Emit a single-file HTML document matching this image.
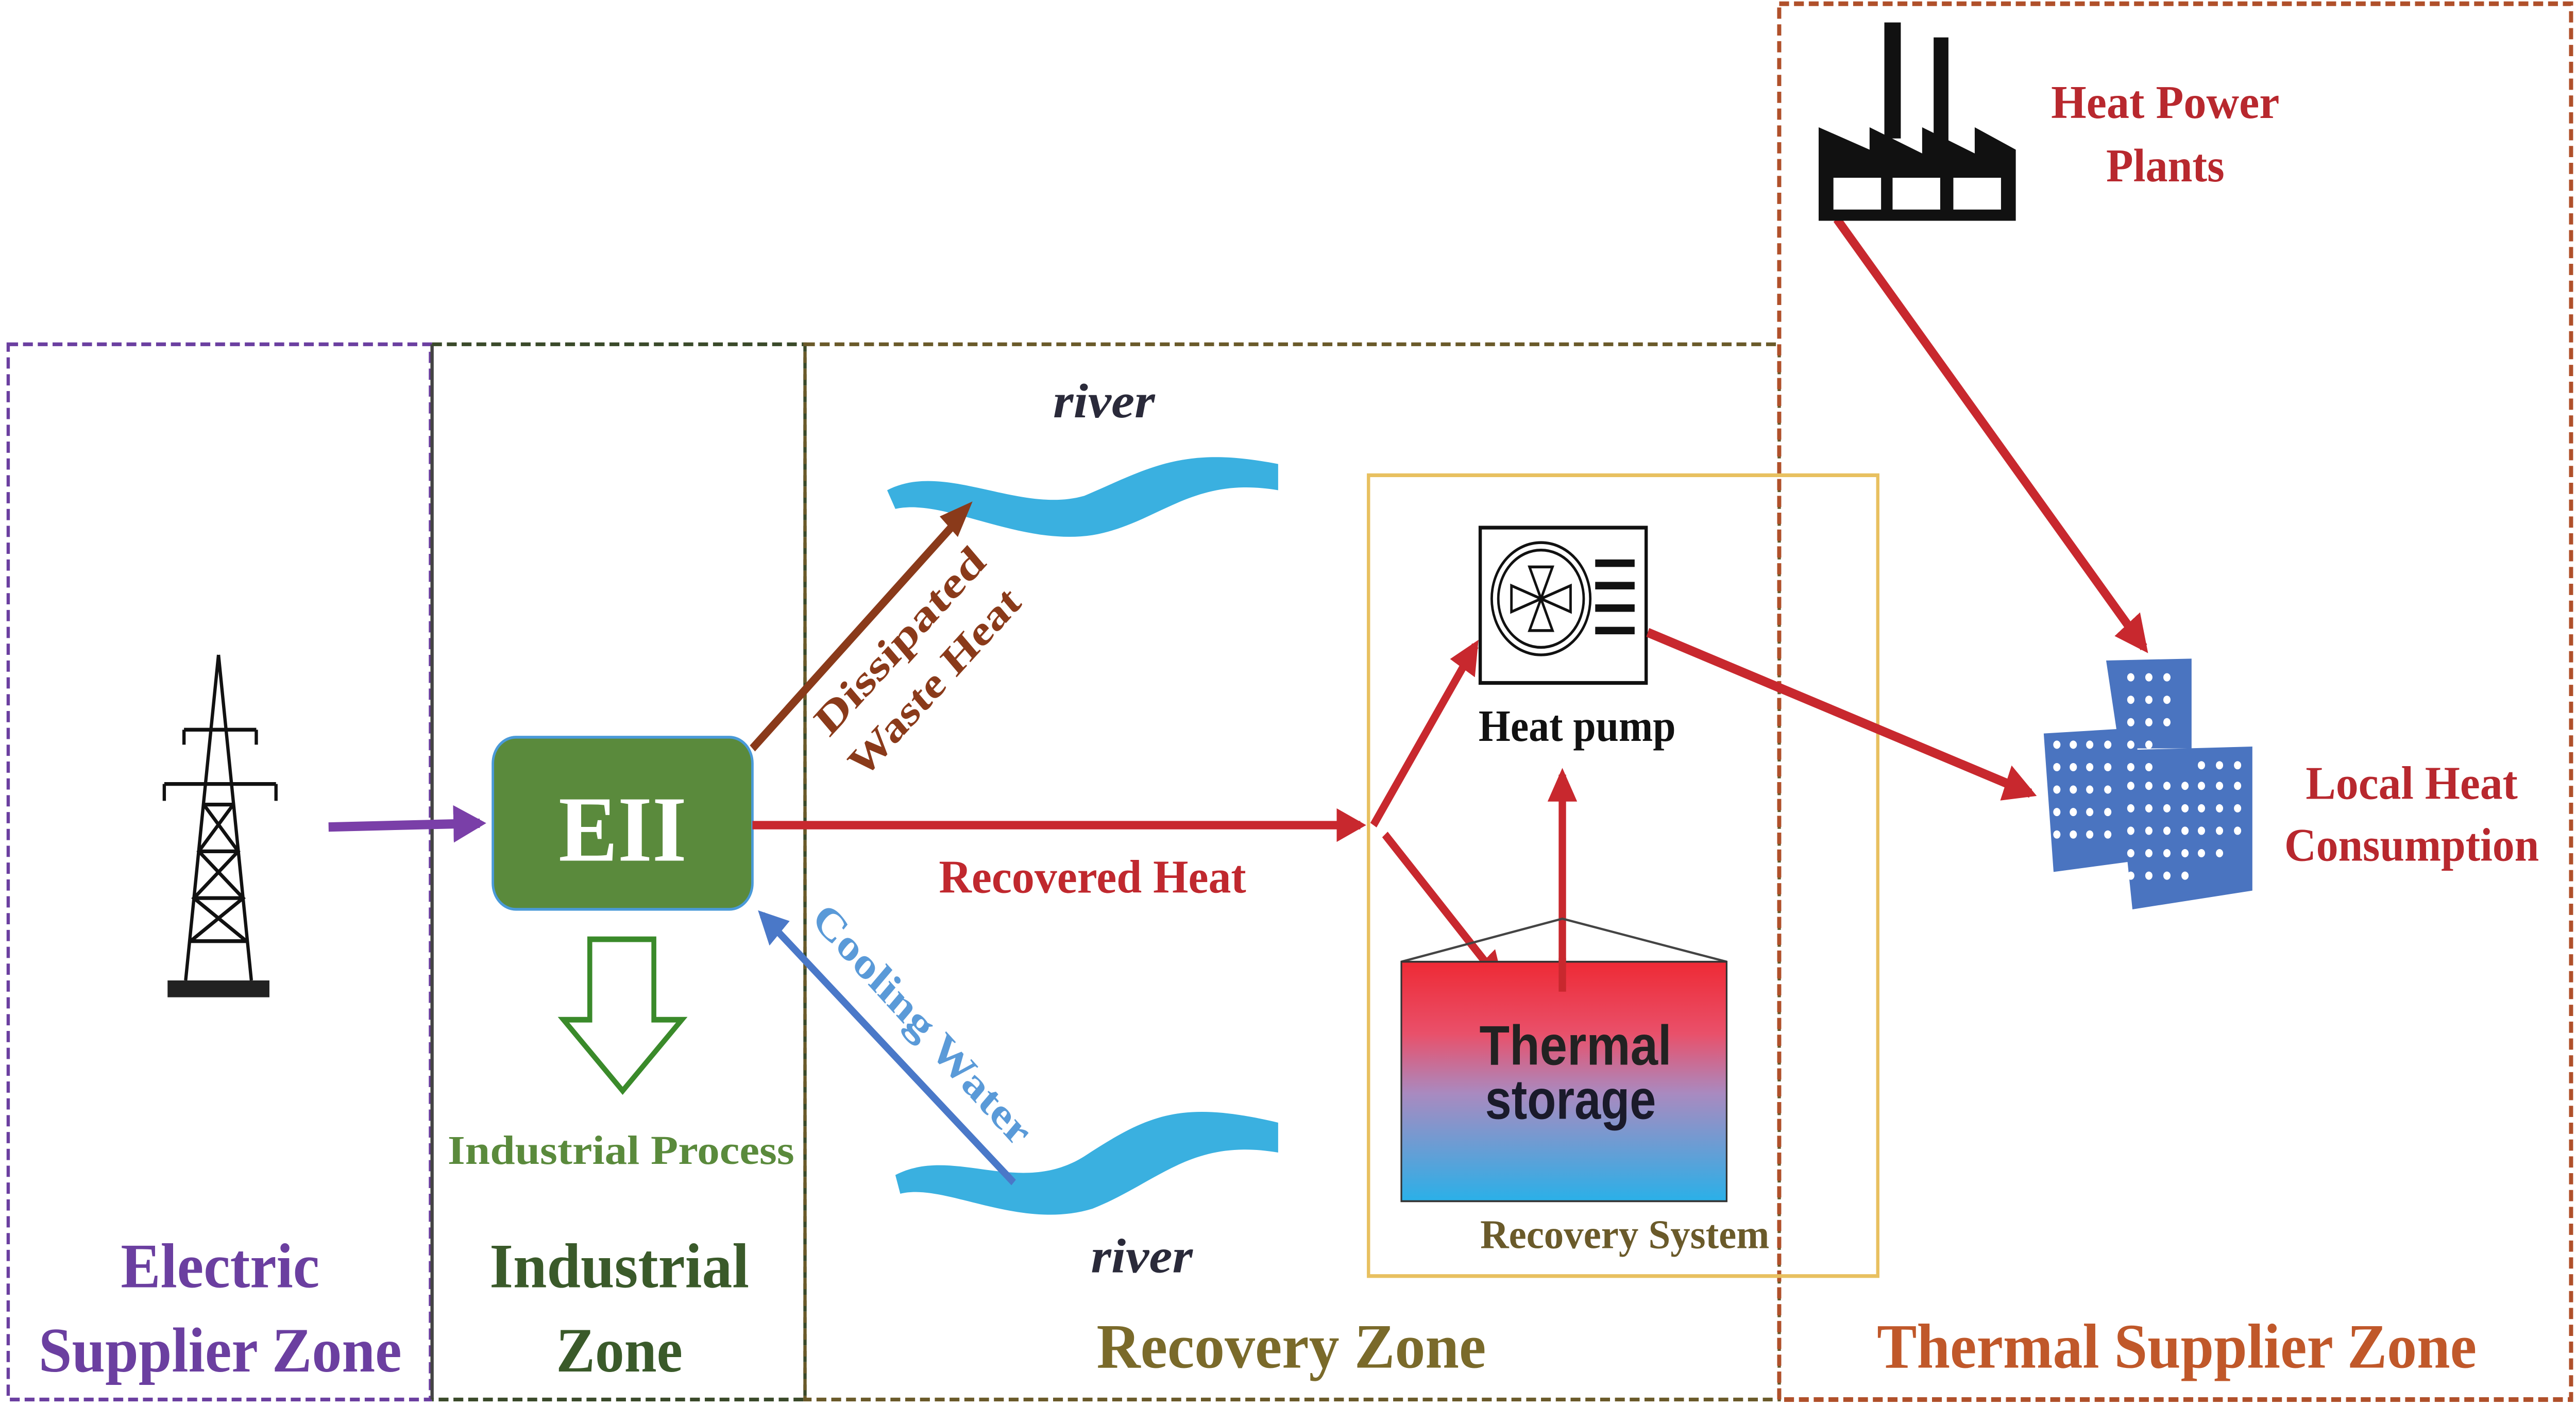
<!DOCTYPE html>
<html><head><meta charset="utf-8"><style>
html,body{margin:0;padding:0;background:#fff;width:100%;height:100%;overflow:hidden}
svg{display:block;position:absolute;left:0;top:0;width:100vw;height:100vh}
text{font-family:"Liberation Serif",serif;font-weight:bold}
</style></head><body>
<svg viewBox="0 0 1568 760" preserveAspectRatio="none" xmlns="http://www.w3.org/2000/svg">
<defs>
<linearGradient id="tg" x1="0" y1="0" x2="0" y2="1">
<stop offset="0" stop-color="#ee2a35"/><stop offset="0.3" stop-color="#e9506a"/><stop offset="0.55" stop-color="#a98ac0"/><stop offset="1" stop-color="#2ab0e8"/></linearGradient>
<marker id="ar" viewBox="0 0 10 10" refX="8" refY="5" markerWidth="4" markerHeight="4" orient="auto"><path d="M0,0L10,5L0,10z" fill="#c8282e"/></marker>
<marker id="ap" viewBox="0 0 10 10" refX="8" refY="5" markerWidth="4" markerHeight="4" orient="auto"><path d="M0,0L10,5L0,10z" fill="#7a3fa8"/></marker>
<marker id="ab" viewBox="0 0 10 10" refX="8" refY="5" markerWidth="4.5" markerHeight="4.5" orient="auto"><path d="M0,0L10,5L0,10z" fill="#4a78c8"/></marker>
</defs>
<rect width="1568" height="760" fill="#fff"/>
<rect x="5" y="184" width="257" height="564" fill="none" stroke="#6b3fa0" stroke-width="2" stroke-dasharray="6,3"/>
<line x1="263" y1="184" x2="263" y2="748" stroke="#444" stroke-width="2"/>
<path d="M263,184H490V748H263" fill="none" stroke="#3a4a2a" stroke-width="2" stroke-dasharray="6,3"/>
<rect x="490" y="184" width="593" height="564" fill="none" stroke="#6a5a2a" stroke-width="2" stroke-dasharray="6,3"/>
<rect x="1083" y="2" width="482" height="746" fill="none" stroke="#b0502a" stroke-width="2.5" stroke-dasharray="6,3"/>
<g stroke="#111" stroke-width="2" fill="none">
<path d="M133,350L113,524M133,350L153,524"/>
<path d="M124,430L142,430M121,455L145,455M118,480L148,480M116,503L150,503"/>
<path d="M124,430L145,455L118,480L150,503M142,430L121,455L148,480L116,503"/>
<path d="M112,390L156,390M100,419L168,419"/>
<path d="M112,390V398M156,390V398M100,419V428M168,419V428"/>
</g>
<rect x="102" y="524" width="62" height="9" fill="#222"/>
<line x1="200" y1="442" x2="292" y2="440" stroke="#7a3fa8" stroke-width="5" marker-end="url(#ap)"/>
<rect x="300" y="394" width="158" height="92" rx="14" fill="#5a8a3c" stroke="#4a9ad8" stroke-width="1.5"/>
<text x="379" y="460" font-size="50" fill="#fff" text-anchor="middle" textLength="78" lengthAdjust="spacingAndGlyphs">EII</text>
<path d="M359,502H398V545H415L379,583L343,545H359Z" fill="#fff" stroke="#3a8a2a" stroke-width="3"/>
<text x="378" y="622" font-size="22" fill="#5a8a3c" text-anchor="middle" textLength="211" lengthAdjust="spacingAndGlyphs">Industrial Process</text>
<path d="M540,262C575,246 620,275 660,265C700,250 720,238 778,248L778,262C725,254 705,280 665,286C620,292 575,266 545,272Z" fill="#3ab0e0"/>
<path d="M545,628C580,612 620,640 660,618C700,595 720,588 778,600L778,616C725,608 705,632 665,646C620,658 575,632 548,638Z" fill="#3ab0e0"/>
<text x="672" y="223" font-size="26" fill="#2a2a3a" font-weight="normal" font-style="italic" text-anchor="middle" textLength="62" lengthAdjust="spacingAndGlyphs">river</text>
<text x="695" y="680" font-size="26" fill="#2a2a3a" font-weight="normal" font-style="italic" text-anchor="middle" textLength="62" lengthAdjust="spacingAndGlyphs">river</text>
<line x1="458" y1="400" x2="585" y2="276" stroke="#8a3a1a" stroke-width="4.5"/>
<path d="M592,268L572,276L583,287Z" fill="#8a3a1a"/>
<text transform="translate(553,348) rotate(-44)" font-size="23" fill="#8a3a1a" text-anchor="middle" textLength="134" lengthAdjust="spacingAndGlyphs">Dissipated</text>
<text transform="translate(574,370) rotate(-44)" font-size="23" fill="#8a3a1a" text-anchor="middle" textLength="135" lengthAdjust="spacingAndGlyphs">Waste Heat</text>
<line x1="458" y1="441" x2="828" y2="441" stroke="#c8282e" stroke-width="4.5" marker-end="url(#ar)"/>
<text x="665" y="477" font-size="25" fill="#c0282e" text-anchor="middle" textLength="187" lengthAdjust="spacingAndGlyphs">Recovered Heat</text>
<line x1="617" y1="632" x2="464" y2="489" stroke="#4a78c8" stroke-width="4" marker-end="url(#ab)"/>
<text transform="translate(556,553) rotate(44)" font-size="23" fill="#5a9ad8" text-anchor="middle" textLength="175" lengthAdjust="spacingAndGlyphs">Cooling Water</text>
<rect x="833" y="254" width="310" height="428" fill="none" stroke="#e8c060" stroke-width="2"/>
<rect x="901" y="282" width="101" height="83" fill="#fff" stroke="#111" stroke-width="2"/>
<ellipse cx="938" cy="320" rx="30" ry="30" fill="none" stroke="#111" stroke-width="1.5"/>
<ellipse cx="938" cy="320" rx="26" ry="26" fill="none" stroke="#111" stroke-width="1.5"/>
<path d="M931,303L945,303L938,320ZM931,337L945,337L938,320ZM920,313L920,327L938,320ZM956,313L956,327L938,320Z" fill="none" stroke="#111" stroke-width="1.5"/>
<path d="M971,301H995M971,313H995M971,325H995M971,337H995" stroke="#111" stroke-width="4"/>
<text x="960" y="396" font-size="24" fill="#111" text-anchor="middle" textLength="120" lengthAdjust="spacingAndGlyphs">Heat pump</text>
<line x1="836" y1="441" x2="898" y2="345" stroke="#c8282e" stroke-width="4.5" marker-end="url(#ar)"/>
<line x1="843" y1="446" x2="913" y2="524" stroke="#c8282e" stroke-width="4.5" marker-end="url(#ar)"/>
<line x1="951" y1="528" x2="951" y2="414" stroke="#c8282e" stroke-width="4.5" marker-end="url(#ar)"/>
<path d="M853,514L951,491L1051,514" fill="none" stroke="#444" stroke-width="1.2"/>
<rect x="853" y="514" width="198" height="128" fill="url(#tg)" stroke="#333" stroke-width="1"/>
<line x1="951" y1="512" x2="951" y2="530" stroke="#c8282e" stroke-width="4.5"/>
<text x="959" y="569" font-size="30" fill="#222" text-anchor="middle" textLength="117" lengthAdjust="spacingAndGlyphs" style="font-family:'Liberation Sans',sans-serif">Thermal</text>
<text x="956" y="598" font-size="30" fill="#1a1a2a" text-anchor="middle" textLength="104" lengthAdjust="spacingAndGlyphs" style="font-family:'Liberation Sans',sans-serif">storage</text>
<text x="989" y="667" font-size="22" fill="#6a5a2a" font-weight="normal" text-anchor="middle" textLength="176" lengthAdjust="spacingAndGlyphs">Recovery System</text>
<line x1="1003" y1="338" x2="1236" y2="424" stroke="#c8282e" stroke-width="5" marker-end="url(#ar)"/>
<line x1="1118" y1="117" x2="1305" y2="346" stroke="#c8282e" stroke-width="5" marker-end="url(#ar)"/>
<g fill="#111">
<rect x="1147" y="12" width="10" height="62"/><rect x="1177" y="20" width="9" height="56"/>
<path d="M1107,68L1138,80V68L1170,82V68L1202,82V68L1227,80V118H1107Z"/>
</g>
<g fill="#fff"><rect x="1116" y="95" width="29" height="17"/><rect x="1152" y="95" width="29" height="17"/><rect x="1189" y="95" width="29" height="17"/></g>
<text x="1318" y="63" font-size="25" fill="#b8282e" text-anchor="middle" textLength="139" lengthAdjust="spacingAndGlyphs">Heat Power</text>
<text x="1318" y="97" font-size="25" fill="#b8282e" text-anchor="middle" textLength="72" lengthAdjust="spacingAndGlyphs">Plants</text>
<g fill="#4a74c0">
<path d="M1282,353L1334,352L1334,400L1290,400Z"/>
<path d="M1244,392L1301,389L1301,460L1250,466Z"/>
<path d="M1288,401L1371,399L1371,476L1298,486Z"/>
</g>
<g fill="#fff">
<circle cx="1297" cy="362" r="2.2"/><circle cx="1308" cy="362" r="2.2"/><circle cx="1319" cy="362" r="2.2"/>
<circle cx="1297" cy="374" r="2.2"/><circle cx="1308" cy="374" r="2.2"/><circle cx="1319" cy="374" r="2.2"/>
<circle cx="1297" cy="386" r="2.2"/><circle cx="1308" cy="386" r="2.2"/><circle cx="1319" cy="386" r="2.2"/>
<circle cx="1252" cy="398" r="2.2"/><circle cx="1262" cy="398" r="2.2"/><circle cx="1272" cy="398" r="2.2"/><circle cx="1283" cy="398" r="2.2"/><circle cx="1297" cy="398" r="2.2"/><circle cx="1308" cy="398" r="2.2"/>
<circle cx="1252" cy="410" r="2.2"/><circle cx="1262" cy="410" r="2.2"/><circle cx="1272" cy="410" r="2.2"/><circle cx="1283" cy="410" r="2.2"/><circle cx="1297" cy="410" r="2.2"/><circle cx="1308" cy="410" r="2.2"/><circle cx="1340" cy="409" r="2.2"/><circle cx="1351" cy="409" r="2.2"/><circle cx="1362" cy="409" r="2.2"/>
<circle cx="1252" cy="422" r="2.2"/><circle cx="1262" cy="422" r="2.2"/><circle cx="1272" cy="422" r="2.2"/><circle cx="1283" cy="422" r="2.2"/><circle cx="1297" cy="420" r="2.2"/><circle cx="1308" cy="420" r="2.2"/><circle cx="1319" cy="420" r="2.2"/><circle cx="1330" cy="420" r="2.2"/><circle cx="1340" cy="420" r="2.2"/><circle cx="1351" cy="420" r="2.2"/><circle cx="1362" cy="420" r="2.2"/>
<circle cx="1252" cy="434" r="2.2"/><circle cx="1262" cy="434" r="2.2"/><circle cx="1272" cy="434" r="2.2"/><circle cx="1283" cy="434" r="2.2"/><circle cx="1297" cy="432" r="2.2"/><circle cx="1308" cy="432" r="2.2"/><circle cx="1319" cy="432" r="2.2"/><circle cx="1330" cy="432" r="2.2"/><circle cx="1340" cy="432" r="2.2"/><circle cx="1351" cy="432" r="2.2"/><circle cx="1362" cy="432" r="2.2"/>
<circle cx="1252" cy="446" r="2.2"/><circle cx="1262" cy="446" r="2.2"/><circle cx="1272" cy="446" r="2.2"/><circle cx="1283" cy="446" r="2.2"/><circle cx="1297" cy="444" r="2.2"/><circle cx="1308" cy="444" r="2.2"/><circle cx="1319" cy="444" r="2.2"/><circle cx="1330" cy="444" r="2.2"/><circle cx="1340" cy="444" r="2.2"/><circle cx="1351" cy="444" r="2.2"/><circle cx="1362" cy="444" r="2.2"/>
<circle cx="1297" cy="456" r="2.2"/><circle cx="1308" cy="456" r="2.2"/><circle cx="1319" cy="456" r="2.2"/><circle cx="1330" cy="456" r="2.2"/><circle cx="1340" cy="456" r="2.2"/><circle cx="1351" cy="456" r="2.2"/>
<circle cx="1297" cy="468" r="2.2"/><circle cx="1308" cy="468" r="2.2"/><circle cx="1319" cy="468" r="2.2"/><circle cx="1330" cy="468" r="2.2"/>
</g>
<text x="1468" y="427" font-size="25" fill="#b8282e" text-anchor="middle" textLength="129" lengthAdjust="spacingAndGlyphs">Local Heat</text>
<text x="1468" y="460" font-size="25" fill="#b8282e" text-anchor="middle" textLength="155" lengthAdjust="spacingAndGlyphs">Consumption</text>
<text x="134" y="688" font-size="34" fill="#6b3fa0" text-anchor="middle" textLength="121" lengthAdjust="spacingAndGlyphs">Electric</text>
<text x="134" y="733" font-size="34" fill="#6b3fa0" text-anchor="middle" textLength="221" lengthAdjust="spacingAndGlyphs">Supplier Zone</text>
<text x="377" y="688" font-size="34" fill="#3a5a2a" text-anchor="middle" textLength="158" lengthAdjust="spacingAndGlyphs">Industrial</text>
<text x="377" y="733" font-size="34" fill="#3a5a2a" text-anchor="middle" textLength="77" lengthAdjust="spacingAndGlyphs">Zone</text>
<text x="786" y="731" font-size="34" fill="#7a6a2a" text-anchor="middle" textLength="237" lengthAdjust="spacingAndGlyphs">Recovery Zone</text>
<text x="1325" y="731" font-size="34" fill="#c0582a" text-anchor="middle" textLength="365" lengthAdjust="spacingAndGlyphs">Thermal Supplier Zone</text>
</svg>
</body></html>
